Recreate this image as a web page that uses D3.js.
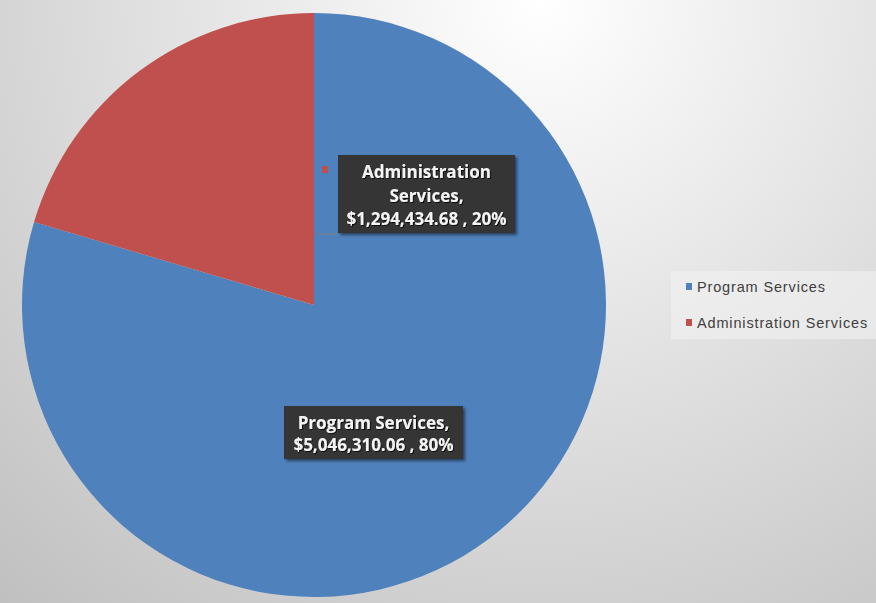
<!DOCTYPE html>
<html>
<head>
<meta charset="utf-8">
<script src="https://cdn.jsdelivr.net/npm/d3@7"></script>
<style>
  html, body { margin: 0; padding: 0; }
  svg { display: block; }
</style>
</head>
<body>
<svg id="chart" width="876" height="603"></svg>
<script>
// data
var categories = ["Program Services", "Administration Services"];
var values = [5046310.06, 1294434.68];
var percentLabels = ["80%", "20%"];
var colors = ["#4f81bd", "#c0504d"];

var W = 876, H = 603;
var cx = 314, cy = 305, radius = 292;

var svg = d3.select("#chart");
var defs = svg.append("defs");

// background gradient
var bg = defs.append("radialGradient")
    .attr("id", "bg")
    .attr("gradientUnits", "userSpaceOnUse")
    .attr("cx", 540).attr("cy", 0).attr("r", 820);
bg.append("stop").attr("offset", "0").attr("stop-color", "#ffffff");
bg.append("stop").attr("offset", "1").attr("stop-color", "#bfbfbf");

var shadow = defs.append("filter").attr("id", "shadow")
    .attr("x", "-10%").attr("y", "-10%").attr("width", "125%").attr("height", "130%");
shadow.append("feDropShadow")
    .attr("dx", 2).attr("dy", 2).attr("stdDeviation", 1.5)
    .attr("flood-color", "#000").attr("flood-opacity", 0.5);

var textShadow = defs.append("filter").attr("id", "tshadow");
textShadow.append("feDropShadow")
    .attr("dx", 1).attr("dy", 1).attr("stdDeviation", 0.6)
    .attr("flood-color", "#000").attr("flood-opacity", 0.8);

svg.append("rect")
    .attr("width", W).attr("height", H)
    .attr("fill", "url(#bg)");

// pie
var pie = d3.pie().sort(null).value(function (d) { return d.value; });
var arc = d3.arc().innerRadius(0).outerRadius(radius);

var data = categories.map(function (c, i) {
    return { name: c, value: values[i], pct: percentLabels[i], color: colors[i] };
});

var g = svg.append("g").attr("transform", "translate(" + cx + "," + cy + ")");
g.selectAll("path.slice")
    .data(pie(data))
    .enter().append("path")
    .attr("class", "slice")
    .attr("d", arc)
    .attr("fill", function (d) { return d.data.color; });

// data labels
var fmt = d3.format(",.2f");
var labelFont = "'Open Sans', 'DejaVu Sans', sans-serif";

function drawLabel(lines, x, y, w, h, lineH, firstBaseline) {
    var lg = svg.append("g").attr("transform", "translate(" + x + "," + y + ")");
    lg.append("rect")
        .attr("width", w).attr("height", h)
        .attr("fill", "#363636")
        .attr("filter", "url(#shadow)");
    lg.selectAll("text")
        .data(lines)
        .enter().append("text")
        .attr("x", w / 2)
        .attr("y", function (d, i) { return firstBaseline + i * lineH; })
        .attr("text-anchor", "middle")
        .attr("fill", "#f4f4f4")
        .attr("font-family", labelFont)
        .attr("font-weight", "bold")
        .attr("font-size", 17)
        .attr("filter", "url(#tshadow)")
        .text(function (d) { return d; });
    return lg;
}

// leader line for admin label
svg.append("line")
    .attr("x1", 317).attr("y1", 234)
    .attr("x2", 338).attr("y2", 234)
    .attr("stroke", "#7f7f7f").attr("stroke-width", 1);

// small legend key beside admin label
svg.append("rect")
    .attr("x", 322).attr("y", 166).attr("width", 6).attr("height", 7)
    .attr("fill", colors[1]);

drawLabel(["Administration", "Services,", "$" + fmt(values[1]) + " , " + percentLabels[1]],
    338, 155, 177, 78, 23.5, 23);
drawLabel([categories[0] + ",", "$" + fmt(values[0]) + " , " + percentLabels[0]],
    284, 406, 179, 53, 22, 23);

// legend
var legend = svg.append("g").attr("transform", "translate(671,271)");
legend.append("rect")
    .attr("width", 205).attr("height", 68)
    .attr("fill", "#f2f2f2").attr("opacity", 0.6);
var items = legend.selectAll("g.item")
    .data(data)
    .enter().append("g")
    .attr("class", "item")
    .attr("transform", function (d, i) { return "translate(15," + (15 + i * 36) + ")"; });
items.append("rect")
    .attr("width", 6).attr("height", 7)
    .attr("y", -3)
    .attr("fill", function (d) { return d.color; });
items.append("text")
    .attr("x", 11)
    .attr("y", 6)
    .attr("fill", "#404040")
    .attr("font-family", "'Liberation Sans', Arial, sans-serif")
    .attr("font-size", 14.5)
    .attr("letter-spacing", 0.85)
    .text(function (d) { return d.name; });
</script>
</body>
</html>
